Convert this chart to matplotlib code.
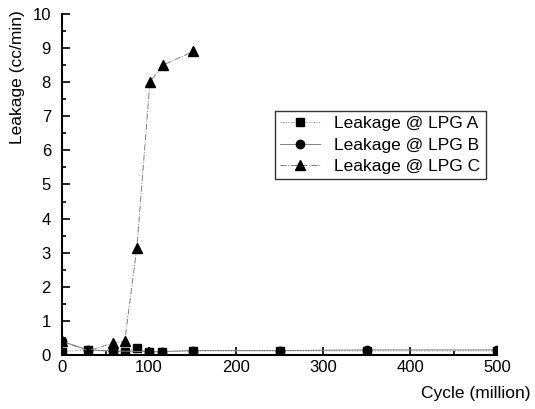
import numpy as np
import matplotlib
matplotlib.use("Agg")
import matplotlib.pyplot as plt
from matplotlib.ticker import MultipleLocator

plt.rcParams['font.family'] = ['Liberation Sans', 'DejaVu Sans']

# data
cycle_a = [0, 30, 58, 72, 86, 100, 115, 150, 250, 350, 500]
leak_a = [0.1, 0.15, 0.1, 0.1, 0.2, 0.08, 0.1, 0.12, 0.12, 0.12, 0.12]

cycle_b = [0, 30, 58, 100, 115, 150, 250, 350, 500]
leak_b = [0.4, 0.15, 0.12, 0.1, 0.1, 0.13, 0.13, 0.15, 0.15]

cycle_c = [0, 30, 58, 72, 86, 101, 116, 151]
leak_c = [0.4, 0.12, 0.35, 0.4, 3.15, 8.0, 8.5, 8.9]

fig = plt.figure(figsize=(5.35, 4.09), dpi=100)
ax = fig.add_axes([0.116, 0.132, 0.813, 0.834])

ax.plot(cycle_a, leak_a, color='gray', lw=0.7, ls=':', marker='s', ms=6,
        mfc='black', mec='black', label='Leakage @ LPG A')
ax.plot(cycle_b, leak_b, color='gray', lw=0.7, ls='-', marker='o', ms=6,
        mfc='black', mec='black', label='Leakage @ LPG B')
ax.plot(cycle_c, leak_c, color='gray', lw=0.7, ls='-.', marker='^', ms=7,
        mfc='black', mec='black', label='Leakage @ LPG C')

ax.set_xlim(0, 500)
ax.set_ylim(0, 10)
ax.xaxis.set_major_locator(MultipleLocator(100))
ax.xaxis.set_minor_locator(MultipleLocator(50))
ax.yaxis.set_major_locator(MultipleLocator(1))
ax.yaxis.set_minor_locator(MultipleLocator(0.5))
ax.tick_params(which='both', direction='in', labelsize=12, width=1.2)
ax.tick_params(which='major', length=6)
ax.tick_params(which='minor', length=3)
ax.tick_params(axis='y', pad=8)

for s in ['top', 'right']:
    ax.spines[s].set_visible(False)
for s in ['left', 'bottom']:
    ax.spines[s].set_linewidth(1.5)

ax.set_xlabel('Cycle (million)', fontsize=12.5)
ax.xaxis.set_label_coords(1.076, -0.09)
ax.xaxis.label.set_horizontalalignment('right')
ax.set_ylabel('Leakage (cc/min)', fontsize=12.5)
ax.yaxis.set_label_coords(-0.085, 1.01)
ax.yaxis.label.set_verticalalignment('bottom')
ax.yaxis.label.set_horizontalalignment('right')

leg = ax.legend(loc='upper left', bbox_to_anchor=(0.49, 0.715), fontsize=12.5,
                frameon=True, fancybox=False, edgecolor='black',
                handlelength=2.3, borderpad=0.3, labelspacing=0.35,
                borderaxespad=0)
leg.get_frame().set_linewidth(1.0)

fig.savefig('out.png', dpi=100)
